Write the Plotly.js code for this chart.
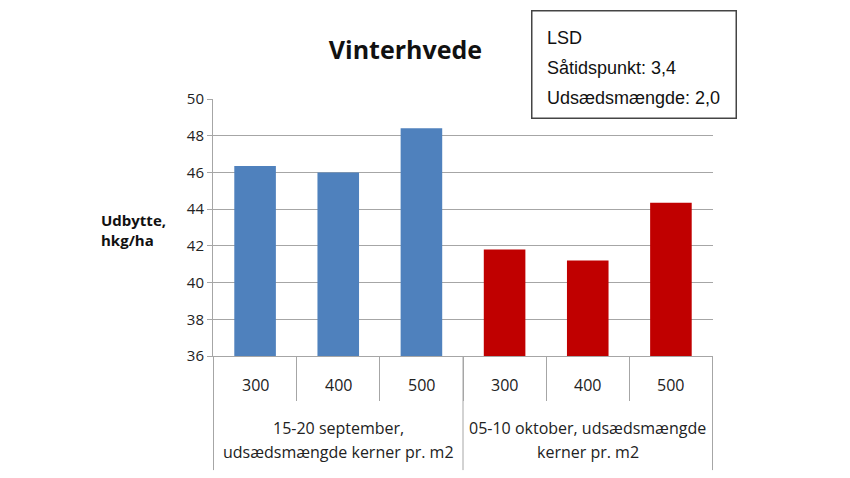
<!DOCTYPE html>
<html>
<head>
<meta charset="utf-8">
<script src="https://cdn.plot.ly/plotly-3.0.1.min.js"></script>
<style>
  body { margin: 0; background: #fff; }
  #chart { width: 850px; height: 478px; }
</style>
</head>
<body>
<div id="chart"></div>
<script>
var groupLines = [
  ['15-20 september,', 'udsædsmængde kerner pr. m2'],
  ['05-10 oktober, udsædsmængde', 'kerner pr. m2'],
];
var seedRates = ['300', '400', '500'];
var septValues = [46.35, 46.0, 48.4];
var octValues = [41.8, 41.2, 44.35];
var yTicks = [36, 38, 40, 42, 44, 46, 48, 50];
var lsdLines = ['LSD', 'Såtidspunkt: 3,4', 'Udsædsmængde: 2,0'];

var gridGrey = '#A6A6A6';

// one unique category per bar: "group|rate"
function keys(g) { return seedRates.map(function(s) { return g + '|' + s; }); }
var septKeys = keys('sep');
var oktKeys = keys('okt');

var sept = {
  type: 'bar',
  x: septKeys,
  y: septValues,
  marker: { color: '#4F81BD' },
  width: 0.5,
  hoverinfo: 'y',
};

var okt = {
  type: 'bar',
  x: oktKeys,
  y: octValues,
  marker: { color: '#C00000' },
  width: 0.5,
  hoverinfo: 'y',
};

var annots = [
  {
    text: '<b>Udbytte,<br>hkg/ha</b>',
    xref: 'paper', yref: 'paper',
    x: -0.09, y: 0.49,
    xanchor: 'right', yanchor: 'middle',
    align: 'left',
    showarrow: false,
    font: { size: 15, color: '#111' },
  },
  {
    text: '',
    xref: 'paper', yref: 'paper',
    x: 0.636, y: 1.346,
    xanchor: 'left', yanchor: 'top',
    width: 203, height: 106,
    showarrow: false,
    bordercolor: '#444',
    borderwidth: 1.5,
    borderpad: 0,
    bgcolor: '#fff',
  },
];

var lineY = [1.237, 1.121, 1.004];
lsdLines.forEach(function(t, i) {
  annots.push({
    text: t,
    xref: 'paper', yref: 'paper',
    x: 0.664, y: lineY[i],
    xanchor: 'left', yanchor: 'middle',
    showarrow: false,
    font: { family: 'Liberation Sans, Arial, sans-serif', size: 18, color: '#111' },
  });
});

// seed-rate labels under each bar
septKeys.concat(oktKeys).forEach(function(k) {
  annots.push({
    text: k.split('|')[1],
    xref: 'x', yref: 'paper',
    x: k, y: -0.113,
    xanchor: 'center', yanchor: 'middle',
    showarrow: false,
    font: { size: 16, color: '#222' },
  });
});

// group labels, centred under the middle bar of each group
var groupY = [-0.280, -0.374];
[septKeys, oktKeys].forEach(function(ks, g) {
  groupLines[g].forEach(function(t, i) {
    annots.push({
      text: t,
      xref: 'x', yref: 'paper',
      x: ks[1], y: groupY[i],
      xanchor: 'center', yanchor: 'middle',
      showarrow: false,
      font: { size: 16, color: '#222' },
    });
  });
});

// tall dividers at the outer edges and between the two groups
var nCat = septKeys.length + oktKeys.length;
var shapes = [-0.5, septKeys.length - 0.5, nCat - 0.5].map(function(b) {
  return {
    type: 'line', xref: 'x', yref: 'paper',
    x0: b, x1: b, y0: 0, y1: -0.444,
    line: { color: gridGrey, width: 1 },
  };
});

var layout = {
  width: 850,
  height: 478,
  margin: { l: 213, r: 137, t: 99, b: 122 },
  showlegend: false,
  barmode: 'overlay',
  paper_bgcolor: '#fff',
  plot_bgcolor: '#fff',
  font: { family: 'Open Sans, sans-serif', color: '#222', size: 15 },
  title: {
    text: '<b>Vinterhvede</b>',
    font: { size: 25, color: '#111' },
    x: 0.477, xanchor: 'center',
    y: 0.895, yanchor: 'middle',
  },
  xaxis: {
    type: 'category',
    showgrid: false,
    showline: true,
    linecolor: gridGrey,
    ticks: 'outside',
    tickson: 'boundaries',
    ticklen: 44,
    tickcolor: gridGrey,
    showticklabels: false,
  },
  yaxis: {
    range: [36, 50],
    tickvals: yTicks,
    showgrid: true,
    gridcolor: gridGrey,
    zeroline: false,
    showline: true,
    linecolor: gridGrey,
    ticks: 'outside',
    ticklen: 5,
    tickcolor: gridGrey,
    tickfont: { size: 15, color: '#222' },
  },
  annotations: annots,
  shapes: shapes,
};

Plotly.newPlot('chart', [sept, okt], layout, { displayModeBar: false });
</script>
</body>
</html>
